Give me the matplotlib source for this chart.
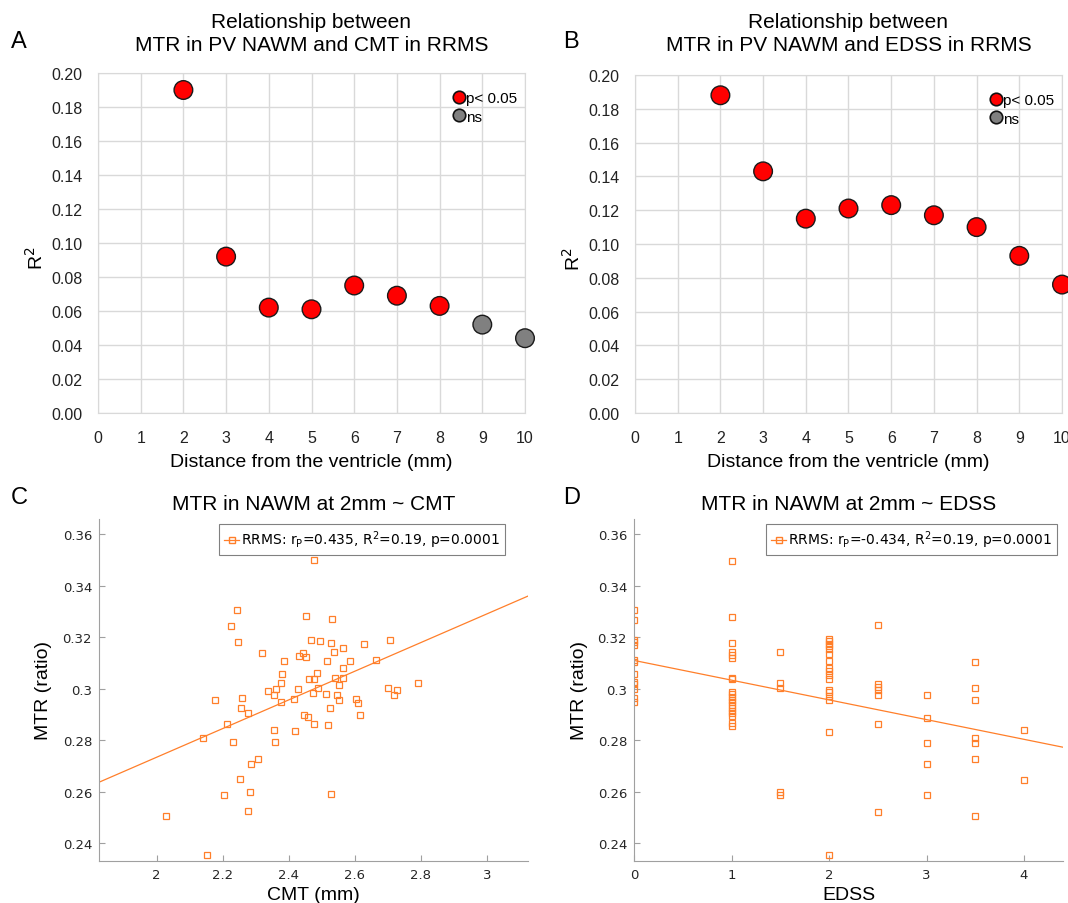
import numpy as np
import matplotlib
matplotlib.use("Agg")
import matplotlib.pyplot as plt
from matplotlib.lines import Line2D
from matplotlib.ticker import FuncFormatter

# R^2 of MTR vs clinical score at each distance from the ventricle
distance = [2, 3, 4, 5, 6, 7, 8, 9, 10]
r2_cmt = [0.190, 0.092, 0.062, 0.061, 0.075, 0.069, 0.063, 0.052, 0.044]
sig_cmt = [True, True, True, True, True, True, True, False, False]
r2_edss = [0.188, 0.143, 0.115, 0.121, 0.123, 0.117, 0.110, 0.093, 0.076]
sig_edss = [True, True, True, True, True, True, True, True, True]

# MTR at 2mm vs CMT (one point per patient)
cmt = [2.475, 2.245, 2.451, 2.531, 2.226, 2.466, 2.496, 2.705, 2.246, 2.529,
       2.628, 2.564, 2.537, 2.320, 2.442, 2.431, 2.451, 2.387, 2.516, 2.586,
       2.664, 2.565, 2.487, 2.381, 2.461, 2.475, 2.541, 2.563, 2.378, 2.791,
       2.551, 2.699, 2.363, 2.428, 2.490, 2.729, 2.338, 2.473, 2.514, 2.547,
       2.719, 2.355, 2.258, 2.416, 2.177, 2.603, 2.551, 2.378, 2.610, 2.255,
       2.525, 2.277, 2.616, 2.446, 2.458, 2.214, 2.478, 2.519, 2.356, 2.419,
       2.142, 2.230, 2.359, 2.308, 2.285, 2.252, 2.284, 2.203, 2.528, 2.278,
       2.029, 2.152]
mtr_cmt = [0.3498, 0.3304, 0.3280, 0.3269, 0.3245, 0.3190, 0.3186, 0.3188, 0.3180, 0.3176,
           0.3173, 0.3157, 0.3144, 0.3137, 0.3140, 0.3126, 0.3122, 0.3109, 0.3106, 0.3106,
           0.3111, 0.3079, 0.3061, 0.3057, 0.3039, 0.3038, 0.3043, 0.3043, 0.3023, 0.3022,
           0.3013, 0.3001, 0.3000, 0.2999, 0.3003, 0.2995, 0.2992, 0.2984, 0.2979, 0.2977,
           0.2977, 0.2974, 0.2964, 0.2962, 0.2955, 0.2959, 0.2956, 0.2947, 0.2946, 0.2924,
           0.2925, 0.2907, 0.2900, 0.2898, 0.2889, 0.2865, 0.2865, 0.2859, 0.2841, 0.2836,
           0.2810, 0.2793, 0.2793, 0.2729, 0.2710, 0.2648, 0.2601, 0.2588, 0.2590, 0.2524,
           0.2506, 0.2355]

# MTR at 2mm vs EDSS
edss = ([0] * 13 + [1] * 20 + [1.5] * 5 + [2] * 17 + [2.5] * 7 + [3] * 5
        + [3.5] * 7 + [4] * 2)
mtr_edss = [0.3304, 0.3267, 0.3190, 0.3180, 0.3170, 0.3110, 0.3105, 0.3057, 0.3027, 0.3017,
            0.3000, 0.2964, 0.2948,
            0.3496, 0.3278, 0.3178, 0.3141, 0.3130, 0.3120, 0.3043, 0.3036, 0.2987, 0.2978,
            0.2968, 0.2957, 0.2948, 0.2935, 0.2926, 0.2915, 0.2904, 0.2895, 0.2866, 0.2855,
            0.3142, 0.3023, 0.3001, 0.2600, 0.2588,
            0.3193, 0.3184, 0.3175, 0.3165, 0.3154, 0.3136, 0.3108, 0.3080, 0.3069, 0.3052,
            0.3036, 0.2996, 0.2986, 0.2973, 0.2956, 0.2834, 0.2355,
            0.3246, 0.3017, 0.3006, 0.2996, 0.2977, 0.2864, 0.2523,
            0.2975, 0.2886, 0.2791, 0.2709, 0.2588,
            0.3105, 0.3001, 0.2955, 0.2810, 0.2791, 0.2729, 0.2505,
            0.2840, 0.2646]

cmt_label = "RRMS: r$_\\mathrm{P}$=0.435, R$^2$=0.19, p=0.0001"
edss_label = "RRMS: r$_\\mathrm{P}$=-0.434, R$^2$=0.19, p=0.0001"

W, H = 1068, 904
fig = plt.figure(figsize=(W / 100, H / 100), dpi=100)

ARIAL = "Liberation Sans"
ORANGE = "#ff7f2a"
GRID = "#d9d9d9"


def box(left, top, right, bottom):
    return [left / W, 1 - bottom / H, (right - left) / W, (bottom - top) / H]


def r2_panel(rect, r2, sig, title, letter, lx):
    ax = fig.add_axes(rect)
    cols = ["#ff0000" if s else "#808080" for s in sig]
    ax.scatter(distance, r2, s=180, c=cols, edgecolors="#1a1a1a",
               linewidths=1.0, zorder=3, clip_on=False)
    ax.set_xlim(0, 10)
    ax.set_ylim(0, 0.2)
    ax.set_xticks(range(0, 11))
    ax.set_yticks(np.arange(0, 0.201, 0.02))
    ax.yaxis.set_major_formatter(FuncFormatter(lambda v, p: f"{v:.2f}"))
    ax.grid(True, color=GRID, lw=1)
    ax.set_axisbelow(True)
    for sp in ax.spines.values():
        sp.set_color(GRID)
    ax.tick_params(length=0, labelsize=11.5, colors="#222222")
    ax.tick_params(axis="x", pad=12)
    ax.tick_params(axis="y", pad=11)
    for t in ax.get_xticklabels() + ax.get_yticklabels():
        t.set_fontfamily(ARIAL)
    ax.set_xlabel("Distance from the ventricle (mm)", fontsize=14,
                  fontfamily=ARIAL, labelpad=6)
    ax.set_ylabel("R$^2$", fontsize=14, fontfamily=ARIAL)
    ax.yaxis.set_label_coords(-0.119, 0.459)
    handles = [
        Line2D([], [], ls="none", marker="o", ms=9, mfc="#ff0000", mec="#111111", mew=1.2),
        Line2D([], [], ls="none", marker="o", ms=9, mfc="#808080", mec="#111111", mew=1.2),
    ]
    ax.legend(handles, ["p< 0.05", "ns"], loc="upper left",
              bbox_to_anchor=(0.82, 0.965), frameon=False, handlelength=0.6,
              handletextpad=0.2, borderaxespad=0, labelspacing=0.3,
              prop={"family": ARIAL, "size": 11})
    x0 = rect[0] + rect[2] / 2
    fig.text(x0, 1 - 34 / H, title, ha="center", va="center", fontsize=15,
             fontfamily=ARIAL, linespacing=1.3)
    fig.text(lx / W, 1 - 42 / H, letter, ha="left", va="center",
             fontsize=17, fontfamily=ARIAL)
    return ax


def mtr_panel(rect, x, y, xlim, xticks, xlabel, title, label, letter, lx,
              leg_right, ylab_x):
    ax = fig.add_axes(rect)
    ax.plot(x, y, ls="none", marker="s", ms=5, mfc="none", mec=ORANGE,
            mew=0.9, label=label)
    k, b = np.polyfit(x, y, 1)
    xx = np.array(xlim)
    ax.plot(xx, k * xx + b, color=ORANGE, lw=0.9)
    ax.set_xlim(*xlim)
    ax.set_ylim(0.2332, 0.3658)
    ax.set_xticks(xticks)
    ax.set_yticks(np.arange(0.24, 0.361, 0.02))
    fmt = FuncFormatter(lambda v, p: f"{round(v, 3):g}")
    ax.xaxis.set_major_formatter(fmt)
    ax.yaxis.set_major_formatter(fmt)
    for side in ["top", "right"]:
        ax.spines[side].set_visible(False)
    for side in ["left", "bottom"]:
        ax.spines[side].set_color("#a0a0a0")
    ax.tick_params(direction="in", length=4, color="#a0a0a0",
                   labelsize=9.5, labelcolor="#262626", pad=5)
    ax.set_xlabel(xlabel, fontsize=14, fontfamily=ARIAL, labelpad=4)
    ax.set_ylabel("MTR (ratio)", fontsize=14, fontfamily=ARIAL)
    ax.yaxis.set_label_coords(ylab_x, 0.5)
    ax.set_title(title, fontsize=15, fontfamily=ARIAL, pad=7)
    leg = ax.legend(handles=[Line2D([], [], color=ORANGE, lw=0.9, marker="s",
                                    ms=5, mfc="none", mec=ORANGE)],
                    labels=[label], loc="upper right",
                    bbox_to_anchor=(leg_right / W, 1 - 525 / H),
                    bbox_transform=fig.transFigure,
                    fontsize=10, fancybox=False, framealpha=1, edgecolor="#808080",
                    handlelength=1.1, handletextpad=0.15, borderpad=0.35,
                    borderaxespad=0)
    leg.get_frame().set_linewidth(0.8)
    fig.text(lx / W, 1 - 498 / H, letter, ha="left", va="center",
             fontsize=17, fontfamily=ARIAL)
    return ax


r2_panel(box(98, 74, 525, 414), r2_cmt, sig_cmt,
         "Relationship between\nMTR in PV NAWM and CMT in RRMS", "A", 11)
r2_panel(box(635, 76, 1062, 414), r2_edss, sig_edss,
         "Relationship between\nMTR in PV NAWM and EDSS in RRMS", "B", 563)

mtr_panel(box(99, 520, 528, 862), cmt, mtr_cmt, (1.826, 3.124),
          [2, 2.2, 2.4, 2.6, 2.8, 3], "CMT (mm)",
          "MTR in NAWM at 2mm ~ CMT", cmt_label, "C", 11, 505, -0.11)
mtr_panel(box(634, 520, 1063, 862), edss, mtr_edss, (0, 4.4),
          [0, 1, 2, 3, 4], "EDSS",
          "MTR in NAWM at 2mm ~ EDSS", edss_label, "D", 563, 1057, -0.107)

fig.savefig("out.png", dpi=100)
